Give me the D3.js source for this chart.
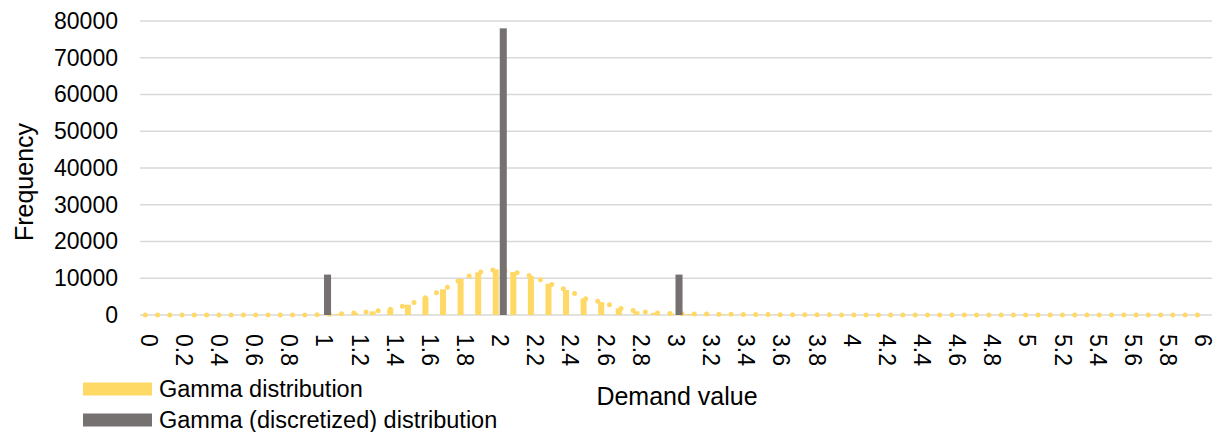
<!DOCTYPE html>
<html>
<head>
<meta charset="utf-8">
<script src="https://cdn.jsdelivr.net/npm/d3@7"></script>
<style>
  html, body { margin: 0; padding: 0; background: #fff; }
  svg { display: block; }
  text { font-family: "Liberation Sans", Arial, sans-serif; fill: #000; }
</style>
</head>
<body>
<svg id="chart" width="1218" height="432"></svg>
<script>
const categories = ["0","0.1","0.2","0.3","0.4","0.5","0.6","0.7","0.8","0.9",
  "1","1.1","1.2","1.3","1.4","1.5","1.6","1.7","1.8","1.9",
  "2","2.1","2.2","2.3","2.4","2.5","2.6","2.7","2.8","2.9",
  "3","3.1","3.2","3.3","3.4","3.5","3.6","3.7","3.8","3.9",
  "4","4.1","4.2","4.3","4.4","4.5","4.6","4.7","4.8","4.9",
  "5","5.1","5.2","5.3","5.4","5.5","5.6","5.7","5.8","5.9","6"];
const tickLabels = ["0","0.2","0.4","0.6","0.8","1","1.2","1.4","1.6","1.8","2","2.2","2.4","2.6","2.8",
  "3","3.2","3.4","3.6","3.8","4","4.2","4.4","4.6","4.8","5","5.2","5.4","5.6","5.8","6"];
const gammaValues = [0,0,0,0,0,0,0,0,0,0,
  100,300,600,1000,1600,2800,4800,7000,9800,11600,
  12400,11700,10600,8500,6800,4500,3500,1800,1000,600,
  400,300,250,200,150,120,100,80,60,40,
  30,20,10,0,0,0,0,0,0,0,
  0,0,0,0,0,0,0,0,0,0,0];
const discretizedValues = [0,0,0,0,0,0,0,0,0,0,
  11000,0,0,0,0,0,0,0,0,0,
  78000,0,0,0,0,0,0,0,0,0,
  11000,0,0,0,0,0,0,0,0,0,
  0,0,0,0,0,0,0,0,0,0,
  0,0,0,0,0,0,0,0,0,0,0];
const yTicks = [0,10000,20000,30000,40000,50000,60000,70000,80000];
const seriesNames = ["Gamma distribution","Gamma (discretized) distribution"];
const seriesColors = ["#FFD966","#767171"];

const svg = d3.select("#chart");
const plotLeft = 140, plotRight = 1212, plotTop = 21, plotBottom = 315;

const x = d3.scaleBand().domain(categories).range([plotLeft, plotRight]).paddingInner(0.2).paddingOuter(0.1);
const xInner = d3.scaleBand().domain([0,1]).range([0, x.bandwidth()]);
const y = d3.scaleLinear().domain([0, 80000]).range([plotBottom, plotTop]);
const cx = c => x(c) + x.bandwidth() / 2;

// gridlines
svg.append("g").selectAll("line").data(yTicks).join("line")
  .attr("x1", plotLeft).attr("x2", plotRight)
  .attr("y1", d => y(d)).attr("y2", d => y(d))
  .attr("stroke", "#D9D9D9").attr("stroke-width", 1.5);

// y axis labels
const yAxis = d3.axisLeft(y).tickValues(yTicks).tickSize(0).tickPadding(0).tickFormat(d3.format("d"));
const gy = svg.append("g").attr("transform", `translate(118,0)`).call(yAxis);
gy.select(".domain").remove();
gy.selectAll("text").attr("font-size", 23).attr("fill", "#000")
  .style("font-family", "'Liberation Sans', Arial, sans-serif");

// x axis labels (rotated)
const xAxis = d3.axisBottom(x).tickValues(tickLabels).tickSize(0).tickPadding(0);
const gx = svg.append("g").attr("transform", `translate(0,${plotBottom})`).call(xAxis);
gx.select(".domain").remove();
gx.selectAll(".tick").attr("transform", d => `translate(${cx(d)},0)`);
gx.selectAll("text")
  .attr("font-size", 23).attr("fill", "#000")
  .style("font-family", "'Liberation Sans', Arial, sans-serif")
  .attr("text-anchor", "start")
  .attr("transform", "translate(0,19) rotate(90)")
  .attr("x", 0).attr("y", 0).attr("dy", "0.35em");

// yellow bars
svg.append("g").selectAll("rect").data(gammaValues).join("rect")
  .attr("x", (d, i) => x(categories[i]) + xInner(0) - 0.5)
  .attr("width", xInner.bandwidth() - 1)
  .attr("y", d => y(d))
  .attr("height", d => y(0) - y(d))
  .attr("fill", seriesColors[0]);

// yellow dotted outline
const line = d3.line().x((d, i) => x(categories[i]) + xInner(0) + xInner.bandwidth()/2).y(d => y(d));
svg.append("path").datum(gammaValues)
  .attr("d", line)
  .attr("fill", "none")
  .attr("stroke", seriesColors[0])
  .attr("stroke-width", 5)
  .attr("stroke-linecap", "round")
  .attr("stroke-dasharray", "0 12.27");

// gray bars
svg.append("g").selectAll("rect").data(discretizedValues).join("rect")
  .attr("x", (d, i) => x(categories[i]) + xInner(1) - 0.5)
  .attr("width", xInner.bandwidth())
  .attr("y", d => y(d))
  .attr("height", d => y(0) - y(d))
  .attr("fill", seriesColors[1]);

// axis titles
svg.append("text").attr("x", 677).attr("y", 396).attr("dy", "0.35em")
  .attr("text-anchor", "middle").attr("font-size", 25).text("Demand value");
svg.append("text").attr("transform", "translate(24,182) rotate(-90)").attr("dy", "0.35em")
  .attr("text-anchor", "middle").attr("font-size", 25).text("Frequency");

// legend
const legend = svg.append("g").selectAll("g").data(seriesNames).join("g")
  .attr("transform", (d, i) => `translate(83,${389 + i * 31})`);
legend.append("rect").attr("x", 0).attr("y", -6.5).attr("width", 69).attr("height", 13)
  .attr("fill", (d, i) => seriesColors[i]);
legend.append("text").attr("x", 76).attr("y", 0).attr("dy", "0.35em")
  .attr("font-size", 23.5).text(d => d);
</script>
</body>
</html>
